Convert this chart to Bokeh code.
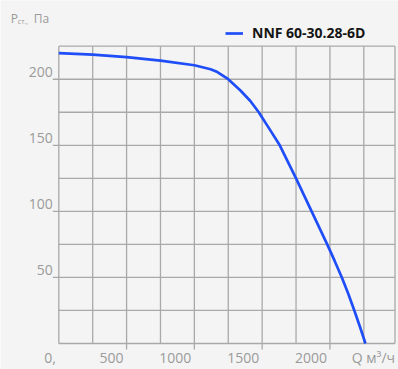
from bokeh.plotting import figure
from bokeh.models import Legend, LegendItem, ColumnDataSource
from bokeh.core.properties import value
from bokeh.embed import file_html
from bokeh.resources import INLINE

# ---- data ----
flow = [0, 250, 500, 750, 1000, 1120, 1170, 1250, 1340, 1413, 1475, 1550,
        1630, 1750, 1865, 1980, 2035, 2088, 2136, 2180, 2222, 2262]
pressure = [219.8, 218.6, 216.8, 214.1, 210.6, 207.6, 205.4, 200.0, 191.5,
            183.5, 175.0, 163.0, 150.0, 125.0, 100.0, 75.0, 62.5, 50.0, 37.5,
            25.0, 12.5, 0.0]
series_name = "NNF 60-30.28-6D"
x_tick_values = [0, 500, 1000, 1500, 2000]
x_tick_labels = ["0,", "500", "1000", "1500", "2000"]
y_tick_values = [50, 100, 150, 200]
y_tick_labels = ["50", "100", "150", "200"]
x_grid = list(range(0, 2251, 250))
y_grid = list(range(0, 226, 25))
x_title = "Q м³/ч"
y_title = ["P", "ст.,", "Па"]
X_MAX, Y_MAX = 2480, 225

# ---- layout (pixels) ----
W, H = 398, 369
LEFT, RIGHT, TOP, BOTTOM = 58.3, 3.5, 45.7, 26
kx = (W - LEFT - RIGHT) / X_MAX      # px per x unit
ky = (H - TOP - BOTTOM) / Y_MAX      # px per y unit
TICK = 6

GRID = "#a9a9a9"
TXT = "#9a9a9a"
BG = "#f4f4f4"
FONT = "Open Sans"

p = figure(width=W, height=H,
           x_range=(-LEFT / kx, X_MAX + RIGHT / kx),
           y_range=(-BOTTOM / ky, Y_MAX + TOP / ky),
           output_backend="svg", toolbar_location=None,
           min_border=0, x_axis_type=None, y_axis_type=None)
p.background_fill_color = BG
p.border_fill_color = BG
p.outline_line_color = None
p.grid.visible = False

# grid + plot-area border
vx = x_grid + [X_MAX]
p.segment(x0=vx, y0=[0] * len(vx), x1=vx, y1=[Y_MAX] * len(vx),
          line_color=GRID, line_width=1.3)
p.segment(x0=[0] * len(y_grid), y0=y_grid, x1=[X_MAX] * len(y_grid), y1=y_grid,
          line_color=GRID, line_width=1.3)
# tick marks
xt = x_tick_values[1:]
p.segment(x0=xt, y0=[0] * len(xt), x1=xt, y1=[-TICK / ky] * len(xt),
          line_color=GRID, line_width=1.3)
p.segment(x0=[0] * len(y_tick_values), y0=y_tick_values,
          x1=[-TICK / kx] * len(y_tick_values), y1=y_tick_values,
          line_color=GRID, line_width=1.3)

r = p.line(flow, pressure, line_color="#1f4ef8", line_width=2.7)

legend = Legend(items=[LegendItem(label=series_name, renderers=[r])],
                location=(225, H - 42))
legend.padding = 0
legend.margin = 0
legend.spacing = 0
legend.border_line_color = None
legend.background_fill_alpha = 0
legend.glyph_width = 18
legend.glyph_height = 14
legend.label_height = 14
legend.label_standoff = 9
legend.label_text_font = FONT
legend.label_text_font_style = "bold"
legend.label_text_font_size = "14px"
legend.label_text_color = "#151515"
p.add_layout(legend)

# tick labels (text glyphs)
xs = ColumnDataSource(dict(x=x_tick_values, y=[0] * len(x_tick_values),
                           t=x_tick_labels))
p.text(x="x", y="y", text="t", source=xs, x_offset=-3, y_offset=14,
       text_align="right", text_baseline="middle",
       text_font=value(FONT), text_font_size="14px", text_color=TXT)
ys = ColumnDataSource(dict(x=[0] * len(y_tick_values), y=y_tick_values,
                           t=y_tick_labels))
p.text(x="x", y="y", text="t", source=ys, x_offset=-6, y_offset=-7,
       text_align="right", text_baseline="middle",
       text_font=value(FONT), text_font_size="14px", text_color=TXT)

# axis titles
p.text(x=[x_grid[-1]], y=[0], text=[x_title], x_offset=-12, y_offset=14,
       text_align="left", text_baseline="middle",
       text_font=value(FONT), text_font_size="14px", text_color=TXT)
p.text(x=[0], y=[Y_MAX], text=[y_title[0]], x_offset=-48, y_offset=-28,
       text_align="left", text_baseline="middle",
       text_font=value(FONT), text_font_size="12px", text_color=TXT)
p.text(x=[0], y=[Y_MAX], text=[y_title[1]], x_offset=-41, y_offset=-24.5,
       text_align="left", text_baseline="middle",
       text_font=value(FONT), text_font_size="7px", text_color=TXT)
p.text(x=[0], y=[Y_MAX], text=[y_title[2]], x_offset=-25, y_offset=-28,
       text_align="left", text_baseline="middle",
       text_font=value(FONT), text_font_size="12px", text_color=TXT)

open("out.html", "w").write(file_html(p, INLINE))
